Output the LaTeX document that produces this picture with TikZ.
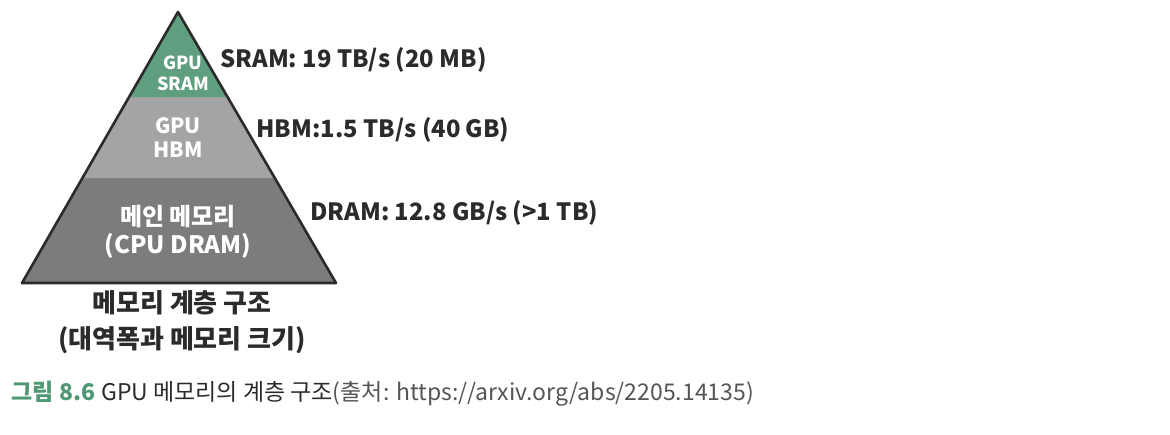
\documentclass[tikz,border=0pt]{standalone}
\usepackage{fontspec}
\setmainfont{Noto Sans CJK KR}
\usetikzlibrary{positioning, calc}

\definecolor{sramgreen}{HTML}{5F9E7E}
\definecolor{hbmgray}{HTML}{A4A4A6}
\definecolor{dramgray}{HTML}{7C7C7C}
\definecolor{inkdark}{HTML}{2B2B2B}
\definecolor{capgreen}{HTML}{4F9874}
\definecolor{capgray}{HTML}{555555}

\begin{document}
\begin{tikzpicture}[
    x=1pt, y=-1pt,
    inner/.style 2 args={text=white, align=center, font=\bfseries\fontsize{#1}{#2}\selectfont},
    speed/.style={anchor=west, text=inkdark, font=\bfseries\fontsize{23.8}{26}\selectfont},
    title/.style={text=inkdark, align=center, font=\bfseries\fontsize{26}{36}\selectfont},
    caption/.style={anchor=west, font=\fontsize{23}{26}\selectfont}
]
\useasboundingbox (0,0) rectangle (1170,434);

    % pyramid corners and layer borders
    \coordinate (apex) at (178,12);
    \coordinate (bl) at (22,283);
    \coordinate (br) at (336,283);
    \coordinate (s1) at ($(apex)!0.314!(bl)$);
    \coordinate (s2) at ($(apex)!0.314!(br)$);
    \coordinate (h1) at ($(apex)!0.613!(bl)$);
    \coordinate (h2) at ($(apex)!0.613!(br)$);

    \fill[dramgray] (h1) -- (h2) -- (br) -- (bl) -- cycle;
    \fill[hbmgray] (s1) -- (s2) -- (h2) -- (h1) -- cycle;
    \fill[sramgreen] (apex) -- (s2) -- (s1) -- cycle;
    \draw[inkdark, line width=2.6pt, line join=round] (apex) -- (br) -- (bl) -- cycle;

    \node[inner={18}{21}] (sram) at (183,73) {GPU\\SRAM};
    \node[inner={21}{24}] (hbm) at (178,138) {GPU\\HBM};
    \node[inner={24}{28}] (dram) at (178,232) {메인 메모리\\(CPU DRAM)};

    \node[speed] (sramspeed) at (217,60) {SRAM: 19 TB/s (20 MB)};
    \node[speed] (hbmspeed) at (253,130) {HBM:1.5 TB/s (40 GB)};
    \node[speed] (dramspeed) at (307,213) {DRAM: 12.8 GB/s (>1 TB)};

    \node[title] (hier) at (182,322) {메모리 계층 구조\\(대역폭과 메모리 크기)};

    \node[caption] (fig) at (8,394) {\textcolor{capgreen}{\bfseries 그림 8.6}\hspace{6pt}\textcolor{inkdark}{GPU 메모리의 계층 구조}\textcolor{capgray}{(출처: https://arxiv.org/abs/2205.14135)}};

\end{tikzpicture}
\end{document}
